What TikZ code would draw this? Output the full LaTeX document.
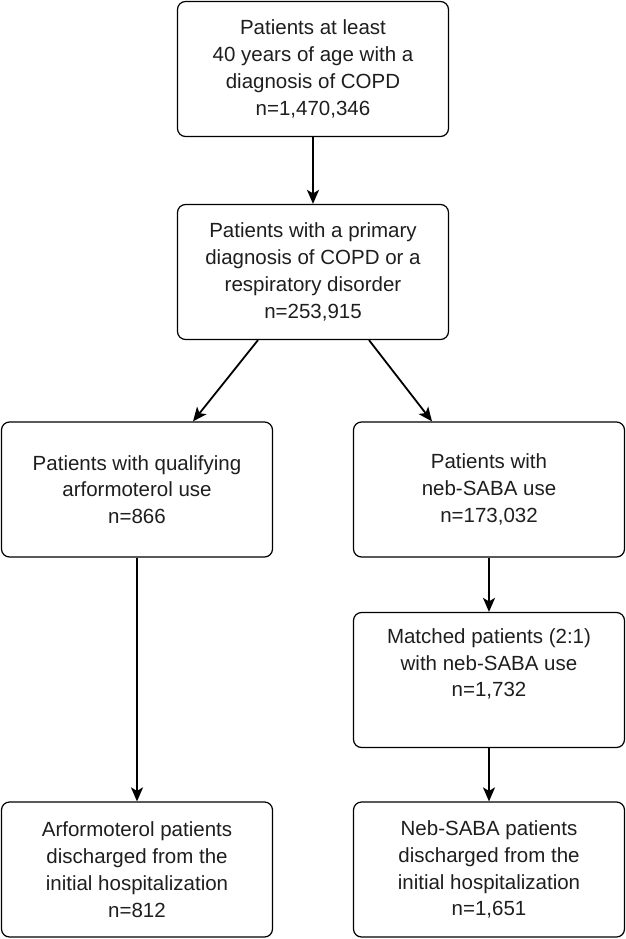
\documentclass[tikz,border=0pt]{standalone}
\usepackage{fontspec}
\setmainfont{Liberation Sans}
\usetikzlibrary{arrows.meta}
\definecolor{txt}{HTML}{1E1E1E}
\begin{document}
\begin{tikzpicture}[x=1pt,y=-1pt,
  box/.style={draw=black, line width=1.2pt, rounded corners=8pt, minimum width=271pt, minimum height=135pt, inner sep=0pt, align=center, text=txt, font=\fontsize{20.5}{26.8}\selectfont},
  arr/.style={line width=1.8pt, -{Stealth[length=14pt,width=12pt,inset=3.5pt]}}]
\useasboundingbox (0,0) rectangle (626,939);
\node[box] (b1) at (313,69) {Patients at least\\40 years of age with a\\diagnosis of COPD\\n=1,470,346};
\node[box] (b2) at (313,272) {Patients with a primary\\diagnosis of COPD or a\\respiratory disorder\\n=253,915};
\node[box] (b3) at (137,489.5) {Patients with qualifying\\arformoterol use\\n=866};
\node[box] (b4) at (489,489.5) {Patients with\\neb-SABA use\\n=173,032};
\node[box] (b5) at (489,680) {Matched patients (2:1)\\with neb-SABA use\\n=1,732\\\strut};
\node[box] (b6) at (137,869.5) {Arformoterol patients\\discharged from the\\initial hospitalization\\n=812};
\node[box] (b7) at (489,869.5) {Neb-SABA patients\\discharged from the\\initial hospitalization\\n=1,651};
\draw[arr] (b1.south) -- (b2.north);
\draw[arr] ([xshift=-55pt]b2.south) -- ([xshift=56pt]b3.north);
\draw[arr] ([xshift=56pt]b2.south) -- ([xshift=-57pt]b4.north);
\draw[arr] (b3.south) -- (b6.north);
\draw[arr] (b4.south) -- (b5.north);
\draw[arr] (b5.south) -- (b7.north);
\end{tikzpicture}
\end{document}
